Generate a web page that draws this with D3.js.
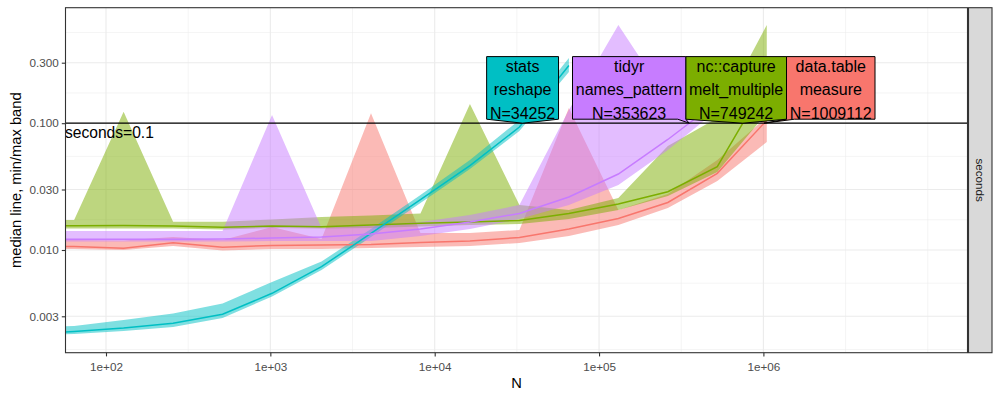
<!DOCTYPE html>
<html><head><meta charset="utf-8">
<script src="https://cdn.jsdelivr.net/npm/d3@7/dist/d3.min.js"></script>
<style>body{margin:0;background:#fff} svg{display:block} text{font-family:"Liberation Sans",Arial,Helvetica,sans-serif}</style>
</head><body><svg id="c" width="1000" height="400"></svg>
<script>
// ---------------- data ----------------
const seriesNames = ["data.table measure", "nc::capture melt_multiple", "stats reshape", "tidyr names_pattern"];
const seriesColors = ["#F8766D", "#7CAE00", "#00BFC4", "#C77CFF"];
const labelLines = [["data.table","measure"],["nc::capture","melt_multiple"],["stats","reshape"],["tidyr","names_pattern"]];
const crossN = [1009112, 749242, 34252, 353623];

const nAll = [32,64,128,256,512,1024,2048,4096,8192,16384,32768,65536,131072,262144,524288,1048576];

const dtMedian = [0.01075,0.01066,0.01031,0.01142,0.01052,0.01085,0.01095,0.01105,0.01146,0.01178,0.01255,0.01464,0.01771,0.02369,0.04026,0.1055];
const dtMin    = [0.01018,0.01018,0.01000,0.01075,0.00991,0.01018,0.01018,0.01037,0.01056,0.01075,0.01135,0.01289,0.01575,0.02144,0.03501,0.07106];
const dtMax    = [0.01199,0.01199,0.01188,0.01266,0.01199,0.01518,0.01221,0.1197,0.01362,0.01362,0.01438,0.1318,0.02068,0.02764,0.05127,0.1119];

const ncMedian = [0.01555,0.01555,0.01561,0.01547,0.01510,0.01547,0.01527,0.01575,0.01624,0.01663,0.01709,0.01941,0.02306,0.02883,0.04539,0.2104];
const ncMin    = [0.01478,0.01478,0.01478,0.01478,0.01451,0.01492,0.01478,0.01492,0.01532,0.01575,0.01603,0.01756,0.02068,0.02666,0.04122,0.1203];
const ncMax    = [0.01725,0.01725,0.1232,0.01672,0.01672,0.01740,0.01821,0.01871,0.01941,0.1417,0.02264,0.02068,0.02571,0.06609,0.1099,0.5948];

const statsMedian = [0.002156,0.002277,0.002426,0.002642,0.003111,0.004555,0.00739,0.01352,0.02497,0.04622,0.0933,0.285];
const statsMin    = [0.002136,0.002175,0.002297,0.00247,0.002909,0.004298,0.006955,0.01266,0.02348,0.04353,0.0868,0.2533];
const statsMax    = [0.00247,0.002515,0.002805,0.003157,0.003786,0.005593,0.008118,0.01464,0.02715,0.05127,0.106,0.3266];

const tidyrMedian = [0.01219,0.01215,0.01218,0.01214,0.01220,0.01243,0.01266,0.01337,0.01464,0.01663,0.01941,0.02618,0.03975,0.0744,0.1476];
const tidyrMin    = [0.01167,0.01165,0.01168,0.01166,0.01167,0.01178,0.01178,0.01178,0.01289,0.01464,0.01756,0.02264,0.03255,0.06145,0.1271];
const tidyrMax    = [0.01412,0.01410,0.01413,0.01411,0.01412,0.1161,0.01492,0.01575,0.01663,0.01888,0.02264,0.1271,0.5948,0.1524,0.2191];

const xTicks = [1e2,1e3,1e4,1e5,1e6];
const xTickLabels = ["1e+02","1e+03","1e+04","1e+05","1e+06"];
const yTicks = [0.003,0.01,0.03,0.1,0.3];
const yTickLabels = ["0.003","0.010","0.030","0.100","0.300"];
const refLine = 0.1;
const refText = "seconds=0.1";
const stripText = "seconds";
const xTitle = "N";
const yTitle = "median line, min/max band";

// ---------------- layout ----------------
const P = {l:65.5, r:967.5, t:7.7, b:352.7};
const x = d3.scaleLog().domain([Math.pow(10,1.7536), Math.pow(10,7.2419)]).range([P.l, P.r]);
const y = d3.scaleLog().domain([Math.pow(10,-2.810), Math.pow(10,-0.0891)]).range([P.b, P.t]);

const svg = d3.select("#c");
svg.append("rect").attr("width",1000).attr("height",400).attr("fill","#fff");
svg.append("defs").append("clipPath").attr("id","clip").append("rect")
  .attr("x",P.l).attr("y",P.t).attr("width",P.r-P.l).attr("height",P.b-P.t);

// minor breaks (ggplot style, midpoints in transformed space)
function minorBreaks(majors, lim){
  const b = majors.map(Math.log10);
  const ext = [b[0]-(b[1]-b[0]), ...b, b[b.length-1]+(b[b.length-1]-b[b.length-2])];
  const out = [];
  for(let i=0;i<ext.length-1;i++){ out.push((ext[i]+ext[i+1])/2); }
  out.push(ext[0], ext[ext.length-1]);
  const lo=Math.log10(lim[0]), hi=Math.log10(lim[1]);
  return out.filter(v=>v>=lo&&v<=hi&&!b.some(m=>Math.abs(m-v)<1e-9)).map(v=>Math.pow(10,v));
}
const grid = svg.append("g");
minorBreaks(xTicks, x.domain()).forEach(v=>grid.append("line").attr("x1",x(v)).attr("x2",x(v)).attr("y1",P.t).attr("y2",P.b).attr("stroke","#EBEBEB").attr("stroke-width",0.55));
minorBreaks(yTicks, y.domain()).forEach(v=>grid.append("line").attr("y1",y(v)).attr("y2",y(v)).attr("x1",P.l).attr("x2",P.r).attr("stroke","#EBEBEB").attr("stroke-width",0.55));
xTicks.forEach(v=>grid.append("line").attr("x1",x(v)).attr("x2",x(v)).attr("y1",P.t).attr("y2",P.b).attr("stroke","#EBEBEB").attr("stroke-width",1.1));
yTicks.forEach(v=>grid.append("line").attr("y1",y(v)).attr("y2",y(v)).attr("x1",P.l).attr("x2",P.r).attr("stroke","#EBEBEB").attr("stroke-width",1.1));

// series
const meds=[dtMedian,ncMedian,statsMedian,tidyrMedian], mins=[dtMin,ncMin,statsMin,tidyrMin], maxs=[dtMax,ncMax,statsMax,tidyrMax];
const series = seriesNames.map((name,i)=>({name, color:seriesColors[i],
  pts: meds[i].map((m,j)=>({n:nAll[j], med:m, min:mins[i][j], max:maxs[i][j]}))}));

const plot = svg.append("g").attr("clip-path","url(#clip)");
const area = d3.area().x(d=>x(d.n)).y0(d=>y(d.min)).y1(d=>y(d.max));
const line = d3.line().x(d=>x(d.n)).y(d=>y(d.med));
series.forEach(s=>plot.append("path").attr("d",area(s.pts)).attr("fill",s.color).attr("fill-opacity",0.5));
series.forEach(s=>plot.append("path").attr("d",line(s.pts)).attr("fill","none").attr("stroke",s.color).attr("stroke-width",1.5));

plot.append("line").attr("x1",P.l).attr("x2",P.r).attr("y1",y(refLine)).attr("y2",y(refLine)).attr("stroke","#000").attr("stroke-width",1.3);
plot.append("text").attr("x",P.l-0.5).attr("y",y(refLine)+15).attr("font-size",15.6).attr("fill","#000").text(refText);

// direct labels
const lab = svg.append("g");
const boxes = series.map((s,i)=>{
  const tipX = x(crossN[i]), tipY = y(refLine);
  const g = lab.append("g");
  const lines = [...labelLines[i], "N="+crossN[i]];
  const texts = lines.map(t=>g.append("text").attr("font-size",16).attr("text-anchor","middle").attr("fill","#000").text(t));
  const w = d3.max(texts, t=>t.node().getComputedTextLength()) + 6.5;
  return {i, g, texts, tipX, tipY, w};
});
// least-squares cluster placement
const sorted = boxes.slice().sort((a,b)=>a.tipX-b.tipX);
let clusters = sorted.map(b=>({items:[b]}));
function place(c){ let off=0; const d=[]; c.items.forEach(b=>{d.push(b.tipX-(off+b.w/2)); off+=b.w;}); c.left=d3.mean(d); c.width=off; }
clusters.forEach(place);
let merged=true;
while(merged){
  merged=false;
  for(let k=0;k<clusters.length-1;k++){
    if(clusters[k].left+clusters[k].width > clusters[k+1].left){
      clusters[k]={items:clusters[k].items.concat(clusters[k+1].items)}; place(clusters[k]);
      clusters.splice(k+1,1); merged=true; break;
    }
  }
}
clusters.forEach(c=>{let off=c.left; c.items.forEach(b=>{b.L=off; b.R=off+b.w; off+=b.w;});});
// draw order: right to left so left boxes sit on top
boxes.slice().sort((a,b)=>b.tipX-a.tipX).forEach(b=>{
  const B=b.tipY-4, T=B-62.6, L=b.L, R=b.R, tx=b.tipX, ty=b.tipY;
  let pts;
  if(tx>=L && tx<=R) pts=[[L,T],[R,T],[R,B],[tx,ty],[L,B]];
  else if(tx>R) pts=[[L,T],[R,T],[R,B],[tx,ty],[R-8,B],[L,B]];
  else pts=[[L,T],[R,T],[R,B],[L+8,B],[tx,ty],[L,B]];
  b.g.insert("path",":first-child").attr("d","M"+pts.map(p=>p.join(",")).join("L")+"Z")
    .attr("fill",series[b.i].color).attr("stroke","#000").attr("stroke-width",1);
  b.texts.forEach((t,j)=>t.attr("x",(L+R)/2).attr("y",T+15.2+23.7*j));
  b.g.raise();
});

// panel border
svg.append("rect").attr("x",P.l).attr("y",P.t).attr("width",P.r-P.l).attr("height",P.b-P.t).attr("fill","none").attr("stroke","#333333").attr("stroke-width",1.1);

// strip
svg.append("rect").attr("x",968.5).attr("y",P.t).attr("width",23.5).attr("height",P.b-P.t).attr("fill","#D9D9D9").attr("stroke","#333333").attr("stroke-width",1.1);
svg.append("text").attr("transform",`translate(980.2,${(P.t+P.b)/2}) rotate(90)`).attr("text-anchor","middle").attr("dy","0.35em")
  .attr("font-size",11.7).attr("fill","#1A1A1A").text(stripText);

// axes
const xAxis = d3.axisBottom(x).tickValues(xTicks).tickFormat((d,i)=>xTickLabels[i]).tickSize(3.7).tickPadding(3);
const gx = svg.append("g").attr("transform",`translate(0,${P.b})`).call(xAxis);
const yAxis = d3.axisLeft(y).tickValues(yTicks).tickFormat((d,i)=>yTickLabels[i]).tickSize(3.7).tickPadding(3);
const gy = svg.append("g").attr("transform",`translate(${P.l},0)`).call(yAxis);
[gx,gy].forEach(g=>{
  g.select(".domain").remove();
  g.selectAll(".tick line").attr("stroke","#333333").attr("stroke-width",1.1);
  g.selectAll(".tick text").attr("fill","#4D4D4D").attr("font-size",11.7).attr("font-family",null);
});
gx.selectAll(".tick text").attr("dy","0.95em");

svg.append("text").attr("x",(P.l+P.r)/2).attr("y",388).attr("text-anchor","middle").attr("font-size",14.7).attr("fill","#000").text(xTitle);
svg.append("text").attr("transform",`translate(21,${(P.t+P.b)/2}) rotate(-90)`).attr("text-anchor","middle").attr("font-size",14.7).attr("fill","#000").text(yTitle);
</script></body></html>
